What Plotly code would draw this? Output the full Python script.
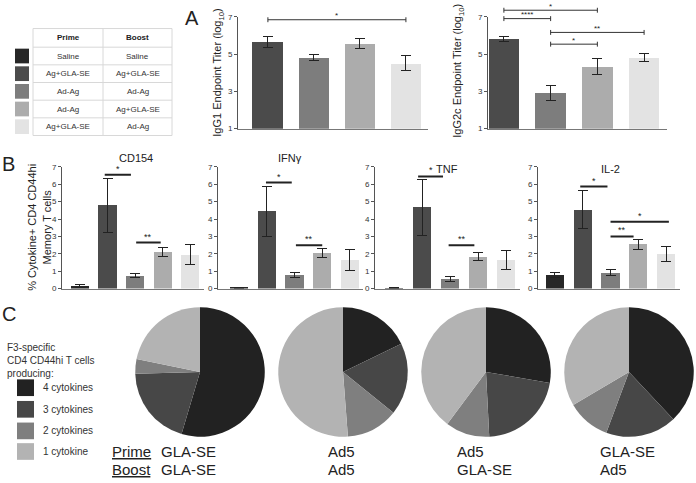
import plotly.graph_objects as go

W, H = 696, 483

# group legend table
prime = ["Saline", "Ag+GLA-SE", "Ad-Ag", "Ad-Ag", "Ag+GLA-SE"]
boost = ["Saline", "Ag+GLA-SE", "Ad-Ag", "Ag+GLA-SE", "Ad-Ag"]
group_colors = ["#272727", "#4b4b4b", "#7d7d7d", "#acacac", "#e3e3e3"]

# panel A (groups 2-5)
a_idx = [0, 1, 2, 3]
igg1 = [5.65, 4.82, 5.57, 4.5]
igg1_err = [0.3, 0.15, 0.27, 0.4]
igg2c = [5.8, 2.9, 4.32, 4.8]
igg2c_err = [0.12, 0.4, 0.42, 0.22]

# panel B (all 5 groups)
b_idx = [0, 1, 2, 3, 4]
cd154 = [0.15, 4.8, 0.75, 2.1, 1.95]
cd154_err = [0.06, 1.55, 0.1, 0.25, 0.58]
ifng = [0.05, 4.45, 0.8, 2.05, 1.65]
ifng_err = [0.02, 1.45, 0.15, 0.25, 0.6]
tnf = [0.03, 4.68, 0.55, 1.85, 1.65]
tnf_err = [0.01, 1.6, 0.12, 0.22, 0.55]
il2 = [0.78, 4.55, 0.9, 2.55, 2.0]
il2_err = [0.17, 1.1, 0.17, 0.3, 0.45]

# panel C pies
cyto_labels = ["4 cytokines", "3 cytokines", "2 cytokines", "1 cytokine"]
pie_colors = ["#222222", "#474747", "#7f7f7f", "#b3b3b3"]
pie_gla_gla = [54.6, 20.0, 3.6, 21.8]
pie_ad_ad = [17.8, 18.0, 13.0, 51.2]
pie_ad_gla = [27.7, 21.5, 11.0, 39.8]
pie_gla_ad = [38.0, 17.7, 10.8, 33.5]
pie_prime = ["GLA-SE", "Ad5", "Ad5", "GLA-SE"]
pie_boost = ["GLA-SE", "Ad5", "GLA-SE", "Ad5"]

FONT = "Arial, Liberation Sans, sans-serif"


def px(x):
    return x / W


def py(y):
    return 1 - y / H


fig = go.Figure()

bar_panels = [
    ("x", "y", a_idx, igg1, igg1_err, group_colors[1:], 0.67),
    ("x2", "y2", a_idx, igg2c, igg2c_err, group_colors[1:], 0.65),
    ("x3", "y3", b_idx, cd154, cd154_err, group_colors, 0.66),
    ("x4", "y4", b_idx, ifng, ifng_err, group_colors, 0.66),
    ("x5", "y5", b_idx, tnf, tnf_err, group_colors, 0.66),
    ("x6", "y6", b_idx, il2, il2_err, group_colors, 0.66),
]
for xa, ya, xs, vals, errs, cols, bw in bar_panels:
    fig.add_trace(go.Bar(
        x=xs, y=vals, width=bw, marker=dict(color=cols, line=dict(width=0)),
        error_y=dict(type="data", array=errs, color="#222", thickness=1, width=5),
        xaxis=xa, yaxis=ya, showlegend=False,
    ))

pies = [pie_gla_gla, pie_ad_ad, pie_ad_gla, pie_gla_ad]
pie_cx = [200, 343, 486, 629]
for vals, cx in zip(pies, pie_cx):
    fig.add_trace(go.Pie(
        values=vals, labels=cyto_labels, sort=False, direction="clockwise",
        rotation=0, textinfo="none", marker=dict(colors=pie_colors, line=dict(width=0)),
        domain=dict(x=[px(cx - 66), px(cx + 66)], y=[py(441), py(309)]),
        showlegend=False,
    ))

yax = dict(showline=True, linecolor="#555", linewidth=1, ticks="outside", ticklen=3,
           tickcolor="#555", tickfont=dict(size=8, color="#333"), showgrid=False,
           zeroline=False)
xax = dict(showline=True, linecolor="#777", linewidth=1, showticklabels=False, ticks="",
           showgrid=False, zeroline=False)

layout = dict(
    width=W, height=H, margin=dict(l=0, r=0, t=0, b=0),
    paper_bgcolor="white", plot_bgcolor="white",
    font=dict(family=FONT, color="#222"), bargap=0,
    xaxis=dict(xax, domain=[px(238), px(428)], range=[-0.65, 3.48], anchor="y"),
    yaxis=dict(yax, domain=[py(127), py(13)], range=[1, 7], tickvals=[1, 3, 5, 7], anchor="x"),
    xaxis2=dict(xax, domain=[px(488), px(667)], range=[-0.34, 3.49], anchor="y2"),
    yaxis2=dict(yax, domain=[py(127), py(13)], range=[1, 7], tickvals=[1, 3, 5, 7], anchor="x2"),
)
b_x = [(62, 204, -0.65, 4.5), (218, 363, -0.76, 4.47), (375, 520, -0.68, 4.5), (538, 680, -0.61, 4.5)]
for i, (x0, x1, r0, r1) in enumerate(b_x):
    n = i + 3
    layout[f"xaxis{n}"] = dict(xax, domain=[px(x0), px(x1)], range=[r0, r1], anchor=f"y{n}")
    layout[f"yaxis{n}"] = dict(yax, domain=[py(290), py(166)], range=[0, 7], dtick=1, anchor=f"x{n}")
fig.update_layout(**layout)

shapes = []
ann = []


def text(x, y, s, size=9, xanchor="center", yanchor="middle", xref="paper", yref="paper",
         angle=0, color="#222", align="center", yshift=0):
    ann.append(dict(x=x, y=y, text=s, xref=xref, yref=yref, showarrow=False,
                    xanchor=xanchor, yanchor=yanchor, textangle=angle, align=align,
                    yshift=yshift, font=dict(size=size, color=color, family=FONT)))


# brackets with caps for panel A (y given in titer units, placed in axis-domain units
# so the top bracket is not clipped by the plot area)
def cap_bracket(xa, ya, x0, x1, y, star, h=0.022):
    d = (y - 1) / 6
    yr = f"{ya} domain"
    shapes.append(dict(type="path", xref=xa, yref=yr, line=dict(color="#333", width=1),
                       path=f"M {x0},{d - h} L {x0},{d + h} M {x0},{d} L {x1},{d} "
                            f"M {x1},{d - h} L {x1},{d + h}"))
    text((x0 + x1) / 2, d, star, size=8, xref=xa, yref=yr, yshift=4)


cap_bracket("x", "y", 0, 3, 6.84, "*")
cap_bracket("x2", "y2", 0, 2, 7.35, "*")
cap_bracket("x2", "y2", 0, 1, 6.9, "****")
cap_bracket("x2", "y2", 1, 3, 6.16, "**")
cap_bracket("x2", "y2", 1, 2, 5.53, "*")


# thick bars for panel B
def bar_line(n, x0, x1, y, star):
    shapes.append(dict(type="line", xref=f"x{n}", yref=f"y{n}", x0=x0, x1=x1, y0=y, y1=y,
                       line=dict(color="#222", width=2)))
    text((x0 + x1) / 2, y, star, size=9, xref=f"x{n}", yref=f"y{n}", yshift=6)


bar_line(3, 0.9, 1.85, 6.55, "*")
bar_line(3, 2.04, 2.93, 2.65, "**")
bar_line(4, 0.97, 1.9, 6.1, "*")
bar_line(4, 2.05, 3.0, 2.5, "**")
bar_line(5, 0.86, 1.75, 6.45, "*")
bar_line(5, 1.95, 2.87, 2.5, "**")
bar_line(6, 0.91, 1.89, 5.87, "*")
bar_line(6, 2.0, 2.83, 3.0, "**")
bar_line(6, 2.0, 4.1, 3.85, "*")

# panel titles / axis titles
text(px(201), py(14), "A", size=20, xanchor="right")
text(px(218), py(70), "IgG1 Endpoint Titer (log<sub>10</sub>)", size=11, angle=-90)
text(px(458), py(68), "IgG2c Endpoint Titer (log<sub>10</sub>)", size=11, angle=-90)
text(px(0), py(163), "B", size=20, xanchor="left")
text(px(39), py(228), "% Cytokine+ CD4 CD44hi<br>Memory T cells", size=11, angle=-90)
text(px(136), py(157), "CD154", size=11)
text(px(290), py(157), "IFNγ", size=11)
text(px(447), py(168), "TNF", size=11)
text(px(610), py(168), "IL-2", size=11)

# group table
rows_y = [25, 44, 62, 80, 98, 116, 134]
tx0, tx1, tmid = 33, 172, 103
for y in rows_y:
    shapes.append(dict(type="line", xref="paper", yref="paper", x0=px(tx0), x1=px(tx1),
                       y0=py(y), y1=py(y), line=dict(color="#d8d8d8", width=1)))
for x in (tx0, tmid, tx1):
    shapes.append(dict(type="line", xref="paper", yref="paper", x0=px(x), x1=px(x),
                       y0=py(rows_y[0]), y1=py(rows_y[-1]), line=dict(color="#d8d8d8", width=1)))
text(px((tx0 + tmid) / 2), py((rows_y[0] + rows_y[1]) / 2), "<b>Prime</b>", size=8)
text(px((tmid + tx1) / 2), py((rows_y[0] + rows_y[1]) / 2), "<b>Boost</b>", size=8)
for i, (p, b, c) in enumerate(zip(prime, boost, group_colors)):
    yc = (rows_y[i + 1] + rows_y[i + 2]) / 2
    text(px((tx0 + tmid) / 2), py(yc), p, size=8, color="#333")
    text(px((tmid + tx1) / 2), py(yc), b, size=8, color="#333")
    shapes.append(dict(type="rect", xref="paper", yref="paper", x0=px(15), x1=px(29),
                       y0=py(yc + 7.5), y1=py(yc - 7.5), fillcolor=c, line=dict(width=0)))

# panel C legend
text(px(0), py(316), "C", size=20, xanchor="left")
text(px(5), py(363), "F3-specific<br>CD4 CD44hi T cells<br>producing:", size=10,
     xanchor="left", color="#333", align="left")
for lab, c, yc in zip(cyto_labels, pie_colors, [391, 413, 435, 456]):
    shapes.append(dict(type="rect", xref="paper", yref="paper", x0=px(17), x1=px(34),
                       y0=py(yc + 8.5), y1=py(yc - 8.5), fillcolor=c, line=dict(width=0)))
    text(px(41), py(yc), lab, size=10, xanchor="left", color="#333")

text(px(110), py(456), "<u>Prime</u>", size=15, xanchor="left")
text(px(110), py(474), "<u>Boost</u>", size=15, xanchor="left")
for p, b, x in zip(pie_prime, pie_boost, [159, 326, 455, 598]):
    text(px(x), py(456), p, size=15, xanchor="left")
    text(px(x), py(474), b, size=15, xanchor="left")

fig.update_layout(shapes=shapes, annotations=ann)
fig.write_html("out.html", config={"displayModeBar": False},
               post_script="document.body.style.margin='0';")
